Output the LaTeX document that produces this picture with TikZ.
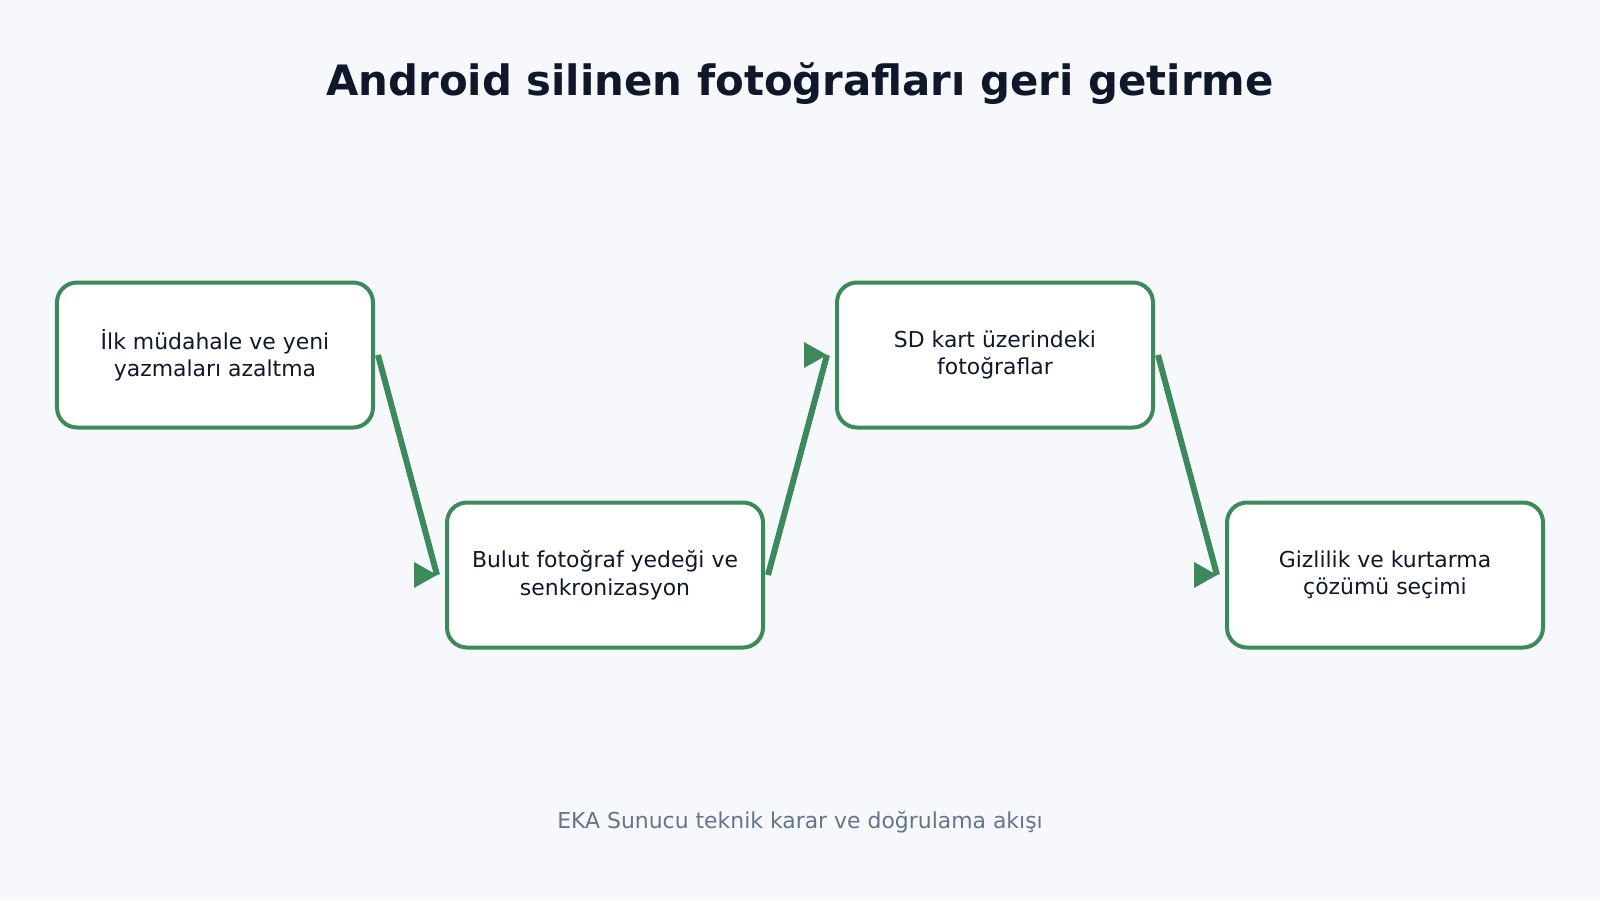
\documentclass[tikz,border=0pt]{standalone}
\usepackage{fontspec}
\setmainfont{DejaVu Sans}
\definecolor{bg}{HTML}{F6F8FB}
\definecolor{grn}{HTML}{3C8A5C}
\definecolor{ink}{HTML}{0F172A}
\definecolor{foot}{HTML}{64748B}
\tikzset{
  stepbox/.style={draw=grn, line width=4bp, fill=white, rounded corners=20bp,
    minimum width=316bp, minimum height=145bp, inner sep=0pt,
    align=center, text=ink, font=\fontsize{22}{27.5}\selectfont},
  flow/.style={draw=grn, line width=6bp},
  tip/.style={fill=grn}
}
\begin{document}
\begin{tikzpicture}[x=1bp,y=-1bp]
\path[fill=bg] (0,0) rectangle (1600,900);
\node[anchor=base, text=ink, font=\fontsize{42}{50}\bfseries\selectfont] (title) at (800,95.5) {Android silinen fotoğrafları geri getirme};
\node[stepbox] (b1) at (215,355) {İlk müdahale ve yeni\\yazmaları azaltma};
\node[stepbox] (b2) at (605,575) {Bulut fotoğraf yedeği ve\\senkronizasyon};
\node[stepbox] (b3) at (995,355) {SD kart üzerindeki\\fotoğraflar};
\node[stepbox] (b4) at (1385,575) {Gizlilik ve kurtarma\\çözümü seçimi};
\coordinate (e1) at ([xshift=-8bp]b2.west);
\coordinate (e2) at ([xshift=-8bp]b3.west);
\coordinate (e3) at ([xshift=-8bp]b4.west);
\draw[flow] ([xshift=3bp]b1.east) -- (e1);
\draw[flow] ([xshift=3bp]b2.east) -- (e2);
\draw[flow] ([xshift=3bp]b3.east) -- (e3);
\foreach \e in {e1,e2,e3}{
  \fill[tip] (\e) -- ++(-23,-13) -- ++(0,26) -- cycle;
}
\node[text=foot, font=\fontsize{22}{26}\selectfont] (footer) at (800,822) {EKA Sunucu teknik karar ve doğrulama akışı};
\end{tikzpicture}
\end{document}
